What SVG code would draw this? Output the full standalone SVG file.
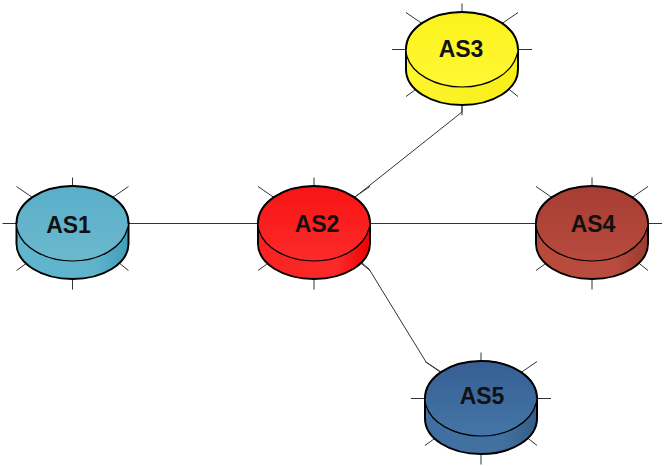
<svg xmlns="http://www.w3.org/2000/svg" width="665" height="467" viewBox="0 0 665 467">
<style>
.tick{stroke:#333;stroke-width:1;fill:none}
.link{stroke:#333;stroke-width:1;fill:none}
.edge{stroke:#000;stroke-width:2}
.rim{stroke:#000;stroke-width:1.2}
text{font-family:"Liberation Sans",Arial,sans-serif;font-size:23px;font-weight:bold;fill:#111;text-anchor:middle}
</style>
<defs>
<g id="ticks" class="tick">
<path d="M0-46V-37M0 55V66M-56 0H-70M56 0H70M-56-37L-40-26M56-37L40-26M-56 47L-45 39M56 47L46 39"/>
</g>
<path id="side" d="M-56 0V20C-56 40 -31 55.500 0 55.500S56 40 56 20V0Z"/>
<path id="top" d="M-56 0C-56-21 -31-37.500 0-37.500S56-21 56 0C56 1 56 3 55 5C50 24 27 37.500 0 37.500S-50 24 -55 7C-56 4 -56 2 -56 0Z"/>
<linearGradient id="g1s" x1="0" x2="1" y1="0" y2="0"><stop offset="0" stop-color="#5fb6cf"/><stop offset=".7" stop-color="#5fb4cc"/><stop offset="1" stop-color="#3f9db9"/></linearGradient>
<linearGradient id="g1t" x1="0" x2="0" y1="0" y2="1"><stop offset="0" stop-color="#5aaec8"/><stop offset="1" stop-color="#6bb8cf"/></linearGradient>
<linearGradient id="g2s" x1="0" x2="1" y1="0" y2="0"><stop offset="0" stop-color="#f92222"/><stop offset=".7" stop-color="#fb2a2a"/><stop offset="1" stop-color="#ee0000"/></linearGradient>
<linearGradient id="g2t" x1="0" x2="0" y1="0" y2="1"><stop offset="0" stop-color="#f81414"/><stop offset="1" stop-color="#fc2a2a"/></linearGradient>
<linearGradient id="g3s" x1="0" x2="1" y1="0" y2="0"><stop offset="0" stop-color="#fdf52e"/><stop offset="1" stop-color="#f8ee18"/></linearGradient>
<linearGradient id="g3t" x1="0" x2="0" y1="0" y2="1"><stop offset="0" stop-color="#fbf21c"/><stop offset="1" stop-color="#fff834"/></linearGradient>
<linearGradient id="g4s" x1="0" x2="1" y1="0" y2="0"><stop offset="0" stop-color="#b84a3c"/><stop offset=".7" stop-color="#b94c3e"/><stop offset="1" stop-color="#9a3a30"/></linearGradient>
<linearGradient id="g4t" x1="0" x2="0" y1="0" y2="1"><stop offset="0" stop-color="#a63d33"/><stop offset="1" stop-color="#b84a3e"/></linearGradient>
<linearGradient id="g5s" x1="0" x2="1" y1="0" y2="0"><stop offset="0" stop-color="#3f6fa3"/><stop offset=".7" stop-color="#43719f"/><stop offset="1" stop-color="#335c88"/></linearGradient>
<linearGradient id="g5t" x1="0" x2="0" y1="0" y2="1"><stop offset="0" stop-color="#365f92"/><stop offset="1" stop-color="#4575a8"/></linearGradient>
</defs>
<g id="connectors" class="link">
<path d="M128 223.500H258"/>
<path d="M370 223.500H536"/>
<path d="M462 105V112L355 197"/>
<path d="M362 263L369 269L426 362L441 372"/>
</g>
<g id="AS1" transform="translate(72.500 223.500)"><use href="#ticks"/><use href="#side" class="edge" fill="url(#g1s)"/><use href="#top" class="rim" fill="url(#g1t)"/><path d="M-56 0C-56-21 -31-37.500 0-37.500S56-21 56 0" class="edge" fill="none"/><text x="-4" y="9">AS1</text></g>
<g id="AS2" transform="translate(314 223.500)"><use href="#ticks"/><use href="#side" class="edge" fill="url(#g2s)"/><use href="#top" class="rim" fill="url(#g2t)"/><path d="M-56 0C-56-21 -31-37.500 0-37.500S56-21 56 0" class="edge" fill="none"/><text x="3" y="8">AS2</text></g>
<g id="AS3" transform="translate(462 49.500)"><use href="#ticks"/><use href="#side" class="edge" fill="url(#g3s)"/><use href="#top" class="rim" fill="url(#g3t)"/><path d="M-56 0C-56-21 -31-37.500 0-37.500S56-21 56 0" class="edge" fill="none"/><text x="-1" y="7">AS3</text></g>
<g id="AS4" transform="translate(592 223.500)"><use href="#ticks"/><use href="#side" class="edge" fill="url(#g4s)"/><use href="#top" class="rim" fill="url(#g4t)"/><path d="M-56 0C-56-21 -31-37.500 0-37.500S56-21 56 0" class="edge" fill="none"/><text x="1" y="8.500">AS4</text></g>
<g id="AS5" transform="translate(481 398.500)"><use href="#ticks"/><use href="#side" class="edge" fill="url(#g5s)"/><use href="#top" class="rim" fill="url(#g5t)"/><path d="M-56 0C-56-21 -31-37.500 0-37.500S56-21 56 0" class="edge" fill="none"/><text x="1" y="5.500">AS5</text></g>
</svg>
